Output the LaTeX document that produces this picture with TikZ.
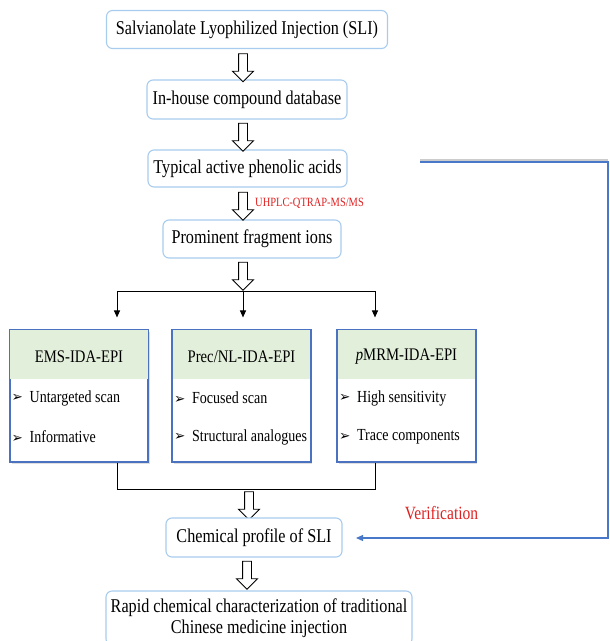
\documentclass[tikz,border=0pt]{standalone}
\usepackage{fontspec}
\setmainfont[FakeStretch=0.83]{Liberation Serif}
\newfontfamily\symfont{DejaVu Sans}
\usetikzlibrary{shapes.arrows,shadows,calc,arrows.meta}
\definecolor{boxblue}{HTML}{A8CCEE}
\definecolor{darkblue}{HTML}{4A72C0}
\definecolor{hdrgreen}{HTML}{E2EFDA}
\definecolor{linkblue}{HTML}{4A78C8}
\definecolor{redtxt}{HTML}{E02020}
\newcommand{\bul}{\makebox[18pt][l]{\raisebox{0.5pt}{\symfont\fontsize{13.5}{13.5}\selectfont ➢}}}
\begin{document}
\begin{tikzpicture}[x=1pt,y=-1pt,
  stepbox/.style={draw=boxblue, line width=1.1pt, rounded corners=6pt, fill=white,
    font=\fontsize{19.5}{21}\selectfont, inner sep=0pt, minimum height=38pt, align=center},
  hollow/.style={single arrow, draw=black, line width=0.9pt, fill=white, shape border rotate=270,
    single arrow head extend=6pt, inner sep=4pt, minimum width=20pt, minimum height=28pt},
  methodbox/.style={draw=darkblue, line width=1.1pt, fill=white, minimum width=138pt,
    minimum height=132pt, inner sep=0pt,
    drop shadow={opacity=0.25, shadow xshift=1.5pt, shadow yshift=-1.5pt}},
  hdr/.style={font=\fontsize{17.7}{19}\selectfont},
  item/.style={font=\fontsize{16.9}{18}\selectfont, anchor=west, inner sep=0pt},
  flow/.style={line width=1pt, -{Triangle[length=7pt,width=6pt]}},
  link/.style={draw=linkblue, line width=1.2pt},
  redlabel/.style={text=redtxt, inner sep=0pt}
]
\useasboundingbox (0,0) rectangle (610,641);

% main boxes
\node[stepbox, minimum width=281pt] (b1) at (247,29.5) {Salvianolate Lyophilized Injection (SLI)};
\node[stepbox, minimum width=200pt, minimum height=39pt] (b2) at (247,99.5) {In-house compound database};
\node[stepbox, minimum width=199pt, minimum height=37pt] (b3) at (247.5,168.5) {Typical active phenolic acids};
\node[stepbox, minimum width=178pt] (b4) at (252,239) {Prominent fragment ions};

% hollow arrows
\node[hollow] (a1) at (243,65.5) {};
\node[hollow] (a2) at (243,135) {};
\node[hollow] (a3) at (243,204) {};
\node[hollow] (a4) at (243,274) {};
\node[redlabel, anchor=west, font=\fontsize{12.6}{14}\selectfont] (uh) at (255,203) {UHPLC-QTRAP-MS/MS};

% branching
\coordinate (jA) at (117,291);
\coordinate (jB) at (243,291);
\coordinate (jC) at (375,291);

% method boxes
\node[methodbox] (A) at (79,396) {};
\node[methodbox] (B) at (241.5,396) {};
\node[methodbox] (C) at (406.5,396) {};
\foreach \n in {A,B,C}{
  \fill[hdrgreen] ([shift={(0.6pt,-0.6pt)}]\n.north west) rectangle ($(\n.north east)+(-0.6,50)$);
  \draw[darkblue, line width=1.1pt] (\n.north west) rectangle (\n.south east);
}
\node[hdr] (hA) at (A.north |- 0,357) {EMS-IDA-EPI};
\node[hdr] (hB) at (B.north |- 0,357) {Prec/NL-IDA-EPI};
\node[hdr] (hC) at (C.north |- 0,357) {\textit{p}MRM-IDA-EPI};
\node[item] (iA1) at ($(A.west |- 0,398)+(2,0)$) {\bul Untargeted scan};
\node[item] (iA2) at ($(A.west |- 0,437)+(2,0)$) {\bul Informative};
\node[item] (iB1) at ($(B.west |- 0,398)+(2,0)$) {\bul Focused scan};
\node[item] (iB2) at ($(B.west |- 0,437)+(2,0)$) {\bul Structural analogues};
\node[item] (iC1) at ($(C.west |- 0,398)+(2,0)$) {\bul High sensitivity};
\node[item] (iC2) at ($(C.west |- 0,437)+(2,0)$) {\bul Trace components};

\draw[line width=1pt] (jA) -- (jC);
\draw[flow, shorten >=12pt] (jA) -- (jA |- A.north);
\draw[flow, shorten >=12pt] (jB) -- (jB |- B.north);
\draw[flow, shorten >=12pt] (jC) -- (jC |- C.north);

\coordinate (kA) at (117,489);
\coordinate (kC) at (375,489);
\draw[line width=1pt] (jA |- A.south) -- (kA) -- (kC) -- (jC |- C.south);

\node[hollow] (a5) at (249,503.5) {};
\node[stepbox, minimum width=176pt, minimum height=39pt] (b5) at (254,537.5) {Chemical profile of SLI};
\node[hollow] (a6) at (247,573) {};
\node[stepbox, minimum width=306pt, minimum height=54pt, font=\fontsize{19.5}{20.5}\selectfont] (b6) at (259,618) {Rapid chemical characterization of traditional\\Chinese medicine injection};

% verification link
\coordinate (v0) at (420,162);
\coordinate (v1) at (608,162);
\coordinate (v2) at (608,538);
\coordinate (v3) at (356,538);
\draw[gray!40, line width=2pt] (420,160) -- (608,160);
\draw[link, -{Triangle[length=7pt,width=6pt]}] (v0) -- (v1) -- (v2) -- (v3);
\node[redlabel, font=\fontsize{18.7}{20}\selectfont] (ver) at (441.5,513) {Verification};
\end{tikzpicture}
\end{document}
